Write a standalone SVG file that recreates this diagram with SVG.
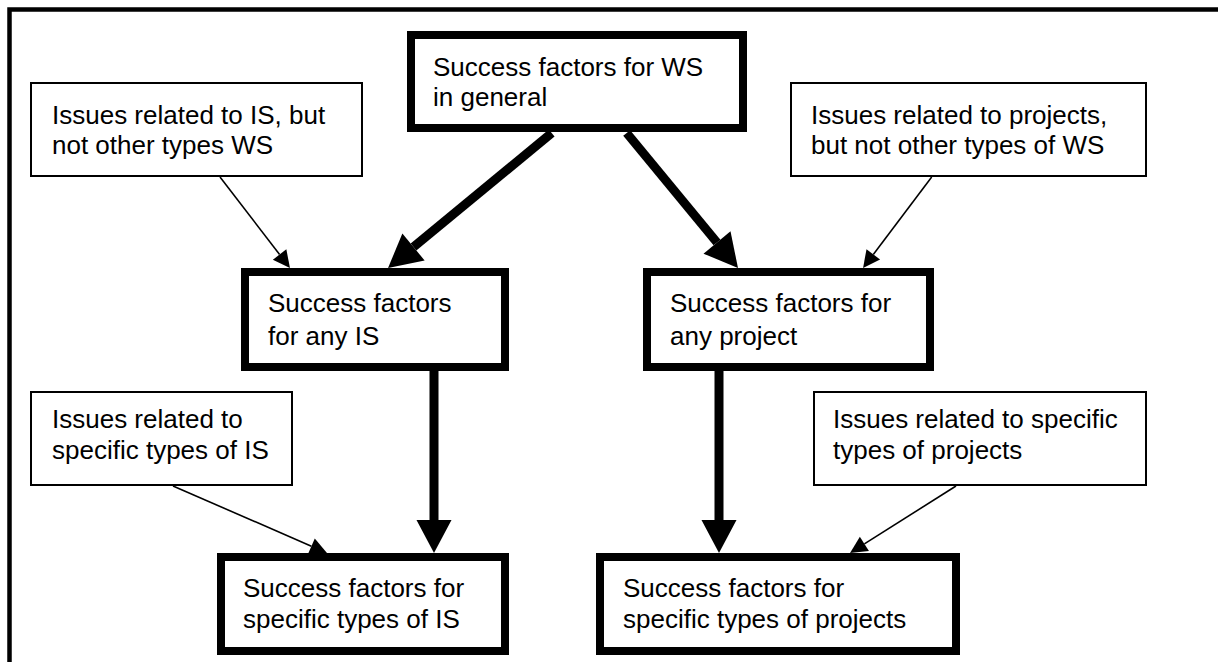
<svg xmlns="http://www.w3.org/2000/svg" width="1218" height="662" viewBox="0 0 1218 662">
<style>
  .frame { fill: none; stroke: #000; stroke-width: 4.5; }
  .node rect { fill: #fff; stroke: #000; stroke-width: 8; }
  .issue rect { fill: #fff; stroke: #000; stroke-width: 2; }
  text { font-family: "Liberation Sans", Arial, sans-serif; font-size: 26px; fill: #000; }
  .thick { stroke: #000; stroke-width: 9; fill: none; marker-end: url(#headThick); }
  .thin { stroke: #000; stroke-width: 1.6; fill: none; marker-end: url(#headThin); }
</style>
<defs>
  <marker id="headThick" markerUnits="userSpaceOnUse" viewBox="0 -18 34 36" markerWidth="34" markerHeight="36" refX="0" refY="0" orient="auto" overflow="visible">
    <path d="M0,-17.5 L33,0 L0,17.5 Z" fill="#000"/>
  </marker>
  <marker id="headThin" markerUnits="userSpaceOnUse" viewBox="0 -9 18 18" markerWidth="18" markerHeight="18" refX="0" refY="0" orient="auto" overflow="visible">
    <path d="M0,-8.5 L17,0 L0,8.5 Z" fill="#000"/>
  </marker>
</defs>
<rect x="0" y="0" width="1218" height="662" fill="#fff"/>
<path class="frame" d="M9.5,662 V9.5 H1218"/>

<g id="connectors">
  <line class="thick" x1="551.7" y1="133" x2="413.5" y2="247"/>
  <line class="thick" x1="626.7" y1="133" x2="717" y2="242.5"/>
  <line class="thick" x1="434" y1="371" x2="434" y2="520"/>
  <line class="thick" x1="719" y1="371" x2="719" y2="520"/>
  <line class="thin" x1="220" y1="177" x2="279.6" y2="254.5"/>
  <line class="thin" x1="931.7" y1="177" x2="873.3" y2="254.4"/>
  <line class="thin" x1="173" y1="486" x2="311.4" y2="546.2"/>
  <line class="thin" x1="956" y1="486" x2="864.4" y2="543.9"/>
</g>

<g id="node-ws-general" class="node">
  <rect x="411" y="35" width="332" height="93"/>
  <text x="433" y="76">Success factors for WS</text>
  <text x="433" y="106">in general</text>
</g>
<g id="issue-is" class="issue">
  <rect x="31" y="83" width="331" height="93"/>
  <text x="52" y="124">Issues related to IS, but</text>
  <text x="52" y="154">not other types WS</text>
</g>
<g id="issue-projects" class="issue">
  <rect x="791" y="83" width="355" height="93"/>
  <text x="811" y="124">Issues related to projects,</text>
  <text x="811" y="154">but not other types of WS</text>
</g>
<g id="node-any-is" class="node">
  <rect x="245" y="272" width="260" height="95"/>
  <text x="268" y="312">Success factors</text>
  <text x="268" y="345">for any IS</text>
</g>
<g id="node-any-project" class="node">
  <rect x="647" y="272" width="283" height="95"/>
  <text x="670" y="312">Success factors for</text>
  <text x="670" y="345">any project</text>
</g>
<g id="issue-specific-is" class="issue">
  <rect x="31" y="392" width="261" height="93"/>
  <text x="52" y="428">Issues related to</text>
  <text x="52" y="459">specific types of IS</text>
</g>
<g id="issue-specific-projects" class="issue">
  <rect x="814" y="392" width="332" height="93"/>
  <text x="833" y="428">Issues related to specific</text>
  <text x="833" y="459">types of projects</text>
</g>
<g id="node-specific-is" class="node">
  <rect x="221" y="557" width="284" height="94"/>
  <text x="243" y="597">Success factors for</text>
  <text x="243" y="628">specific types of IS</text>
</g>
<g id="node-specific-projects" class="node">
  <rect x="600" y="557" width="356" height="94"/>
  <text x="623" y="597">Success factors for</text>
  <text x="623" y="628">specific types of projects</text>
</g>
</svg>
